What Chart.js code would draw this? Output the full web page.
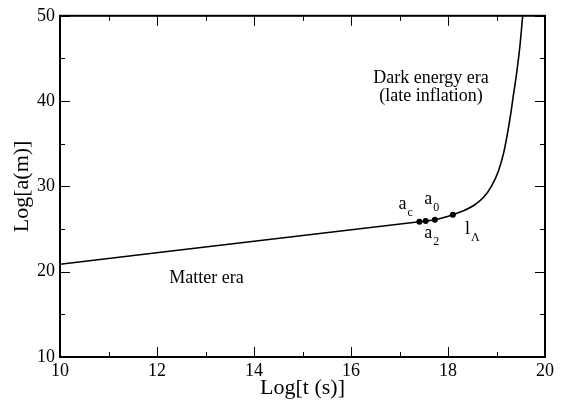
<!DOCTYPE html>
<html>
<head>
<meta charset="utf-8">
<script src="https://cdn.jsdelivr.net/npm/chart.js@4.4.1/dist/chart.umd.min.js"></script>
<style>
  html, body { margin: 0; padding: 0; background: #fff; }
  #wrap { width: 567px; height: 401px; }
</style>
</head>
<body>
<div id="wrap"><canvas id="chart" width="567" height="401"></canvas></div>
<script>
// Curve: Log t (s) vs Log a (m)
const curveT = [10, 17.41, 17.54, 17.73, 18.10, 18.32, 18.52, 18.73, 18.90, 19.04, 19.14, 19.21, 19.28, 19.35, 19.42, 19.485, 19.54];
const curveA = [20.87, 25.86, 25.94, 26.09, 26.68, 27.14, 27.73, 28.69, 30.06, 31.81, 33.75, 35.69, 38.02, 40.75, 43.47, 46.58, 50.0];

// marked epochs a_c, a_2, a_0, l_Lambda
const markT = [17.41, 17.54, 17.73, 18.10];
const markA = [25.86, 25.94, 26.09, 26.68];

// tick values
const xMajor = [10, 12, 14, 16, 18, 20];
const xMinor = [11, 13, 15, 17, 19];
const yMajor = [10, 20, 30, 40, 50];
const yMinor = [15, 25, 35, 45];

// text annotations (data coords, left/baseline for sub labels)
const eraText = ['Dark energy era', '(late inflation)', 'Matter era'];
const eraT = [17.65, 17.65, 13.02];
const eraA = [42.65, 40.55, 19.18];

const subMain = ['a', 'a', 'a', 'l'];
const subText = ['c', '0', '2', '\u039B'];
const subT = [16.98, 17.51, 17.51, 18.35];
const subA = [27.32, 27.95, 23.96, 24.46];

const serif = "'Liberation Serif', 'Times New Roman', serif";
Chart.defaults.font.family = serif;
Chart.defaults.color = '#000';

// frame, inward ticks and text labels
const decorPlugin = {
    id: 'decor',
    afterDatasetsDraw(chart) {
        const ctx = chart.ctx;
        const area = chart.chartArea;
        const xs = chart.scales.x;
        const ys = chart.scales.y;
        ctx.save();

        ctx.strokeStyle = '#000';
        ctx.lineWidth = 1;
        ctx.beginPath();
        const tick = (vals, len) => {
            vals.forEach(v => {
                const px = Math.round(xs.getPixelForValue(v)) + 0.5;
                ctx.moveTo(px, area.bottom); ctx.lineTo(px, area.bottom - len);
                ctx.moveTo(px, area.top); ctx.lineTo(px, area.top + len);
            });
        };
        const tickY = (vals, len) => {
            vals.forEach(v => {
                const py = Math.round(ys.getPixelForValue(v)) + 0.5;
                ctx.moveTo(area.left, py); ctx.lineTo(area.left + len, py);
                ctx.moveTo(area.right, py); ctx.lineTo(area.right - len, py);
            });
        };
        tick(xMajor, 10); tick(xMinor, 5);
        tickY(yMajor, 10); tickY(yMinor, 5);
        ctx.stroke();

        ctx.lineWidth = 2;
        ctx.strokeRect(area.left, area.top, area.right - area.left, area.bottom - area.top);

        ctx.fillStyle = '#000';
        ctx.font = '18px ' + serif;
        ctx.textAlign = 'center';
        ctx.textBaseline = 'middle';
        eraText.forEach((s, i) => {
            ctx.fillText(s, xs.getPixelForValue(eraT[i]), ys.getPixelForValue(eraA[i]));
        });

        ctx.textAlign = 'left';
        ctx.textBaseline = 'alphabetic';
        subMain.forEach((s, i) => {
            const px = xs.getPixelForValue(subT[i]);
            const py = ys.getPixelForValue(subA[i]);
            ctx.font = '18px ' + serif;
            ctx.fillText(s, px, py);
            const w = ctx.measureText(s).width;
            ctx.font = '12px ' + serif;
            ctx.fillText(subText[i], px + w + 1, py + 7);
        });
        ctx.restore();
    }
};

new Chart(document.getElementById('chart'), {
    type: 'scatter',
    data: {
        datasets: [
            {
                data: curveT.map((t, i) => ({ x: t, y: curveA[i] })),
                showLine: true,
                borderColor: '#000',
                borderWidth: 1.6,
                pointRadius: 0,
                cubicInterpolationMode: 'monotone'
            },
            {
                data: markT.map((t, i) => ({ x: t, y: markA[i] })),
                showLine: false,
                pointRadius: 3,
                pointBackgroundColor: '#000',
                pointBorderColor: '#000',
                pointBorderWidth: 0
            }
        ]
    },
    plugins: [decorPlugin],
    options: {
        responsive: false,
        animation: false,
        devicePixelRatio: 1,
        layout: { padding: { top: 14, right: 22, left: 0, bottom: 0 } },
        plugins: {
            legend: { display: false },
            tooltip: { enabled: false }
        },
        scales: {
            x: {
                type: 'linear',
                min: 10,
                max: 20,
                afterFit: s => { s.height = 44; },
                grid: { display: false, drawTicks: false },
                border: { display: false },
                ticks: { stepSize: 2, padding: 3, font: { size: 18 }, maxRotation: 0 },
                title: { display: true, text: 'Log[t (s)]', font: { size: 22 }, padding: { top: 0, bottom: 0 } }
            },
            y: {
                type: 'linear',
                min: 10,
                max: 50,
                afterFit: s => { s.width = 60; },
                grid: { display: false, drawTicks: false },
                border: { display: false },
                ticks: { stepSize: 10, padding: 5, font: { size: 18 } },
                title: { display: true, text: 'Log[a(m)]', font: { size: 22 }, padding: { top: 9, bottom: 0 } }
            }
        }
    }
});
</script>
</body>
</html>
